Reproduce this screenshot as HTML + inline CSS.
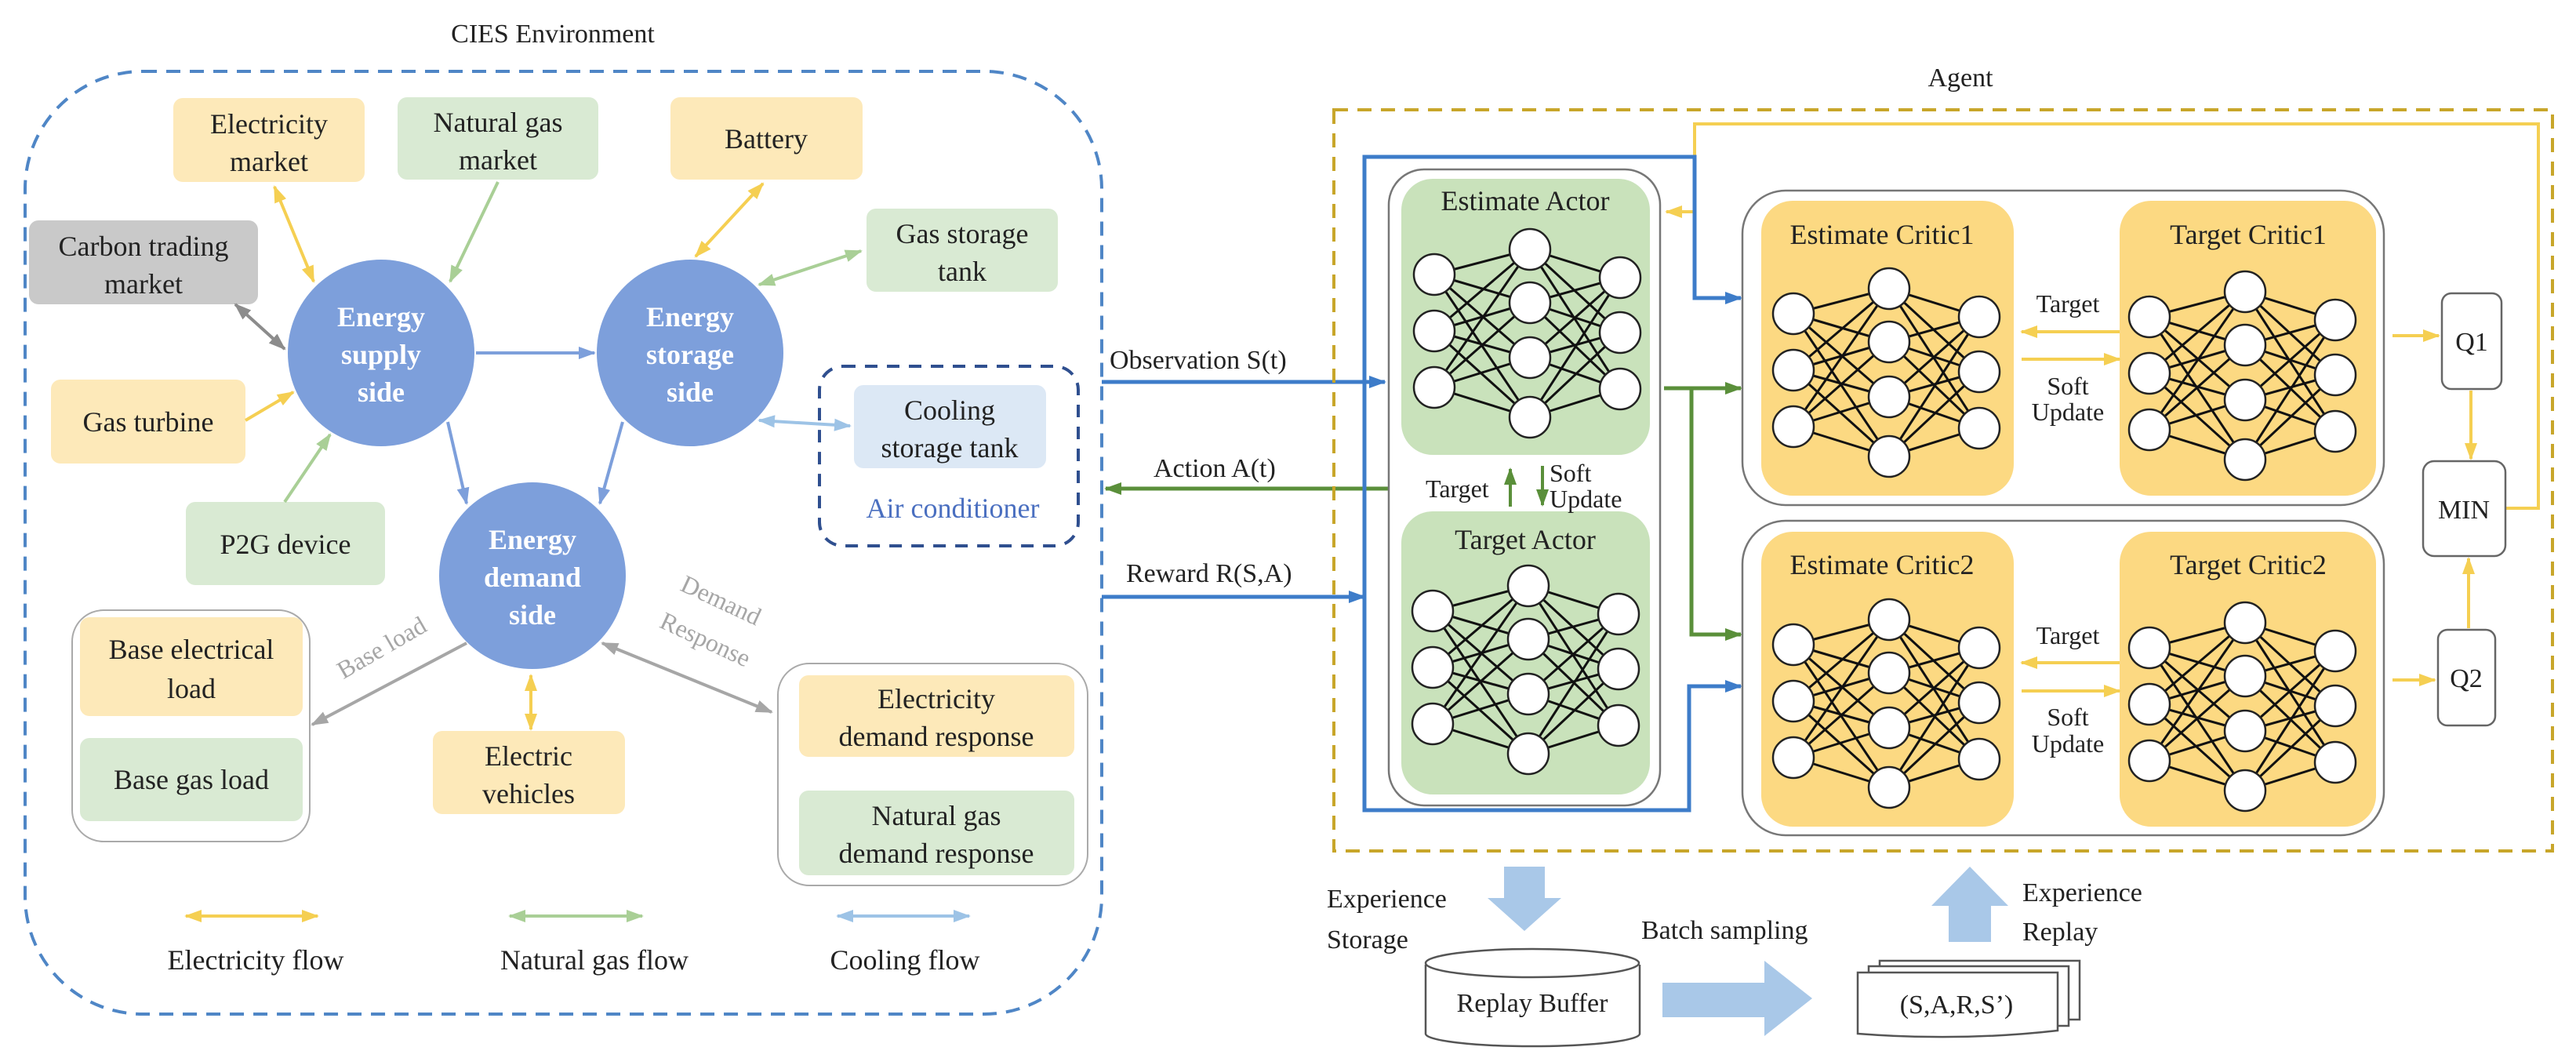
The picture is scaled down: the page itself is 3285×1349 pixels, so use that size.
<!DOCTYPE html>
<html><head><meta charset="utf-8"><style>
html,body{margin:0;padding:0;background:#fff;}
svg{display:block;font-family:"Liberation Serif","Times New Roman",serif;}
svg text{font-family:"Liberation Serif","Times New Roman",serif;fill:#222;}
</style></head><body>
<svg width="3285" height="1349" viewBox="0 0 3285 1349" xmlns="http://www.w3.org/2000/svg" font-family="Liberation Serif, serif">
<defs>
<marker id="ay" markerUnits="userSpaceOnUse" markerWidth="24" markerHeight="20" refX="20" refY="10" orient="auto-start-reverse"><path d="M0,2 L22,10 L0,18 Z" fill="#f5cf52"/></marker>
<marker id="ag" markerUnits="userSpaceOnUse" markerWidth="24" markerHeight="20" refX="20" refY="10" orient="auto-start-reverse"><path d="M0,2 L22,10 L0,18 Z" fill="#a9cf96"/></marker>
<marker id="ab" markerUnits="userSpaceOnUse" markerWidth="24" markerHeight="20" refX="20" refY="10" orient="auto-start-reverse"><path d="M0,2 L22,10 L0,18 Z" fill="#9dc3e6"/></marker>
<marker id="ac" markerUnits="userSpaceOnUse" markerWidth="24" markerHeight="20" refX="20" refY="10" orient="auto-start-reverse"><path d="M0,2 L22,10 L0,18 Z" fill="#7d9fdb"/></marker>
<marker id="agr" markerUnits="userSpaceOnUse" markerWidth="24" markerHeight="20" refX="20" refY="10" orient="auto-start-reverse"><path d="M0,2 L22,10 L0,18 Z" fill="#a6a6a6"/></marker>
<marker id="ak" markerUnits="userSpaceOnUse" markerWidth="24" markerHeight="20" refX="20" refY="10" orient="auto-start-reverse"><path d="M0,2 L22,10 L0,18 Z" fill="#8c8c8c"/></marker>
<marker id="abl" markerUnits="userSpaceOnUse" markerWidth="24" markerHeight="20" refX="20" refY="10" orient="auto-start-reverse"><path d="M0,2 L22,10 L0,18 Z" fill="#3d7cc9"/></marker>
<marker id="adg" markerUnits="userSpaceOnUse" markerWidth="24" markerHeight="20" refX="20" refY="10" orient="auto-start-reverse"><path d="M0,2 L22,10 L0,18 Z" fill="#5a8f3a"/></marker>
<g id="net">
 <g stroke="#111" stroke-width="3">
  <path d="M0,0 L122,-32 M0,0 L122,36 M0,0 L122,106 M0,0 L122,182 M0,72 L122,-32 M0,72 L122,36 M0,72 L122,106 M0,72 L122,182 M0,144 L122,-32 M0,144 L122,36 M0,144 L122,106 M0,144 L122,182"/>
  <path d="M237,4 L122,-32 M237,4 L122,36 M237,4 L122,106 M237,4 L122,182 M237,74 L122,-32 M237,74 L122,36 M237,74 L122,106 M237,74 L122,182 M237,146 L122,-32 M237,146 L122,36 M237,146 L122,106 M237,146 L122,182"/>
 </g>
 <g fill="#fff" stroke="#222" stroke-width="2.5">
  <circle cx="0" cy="0" r="26"/><circle cx="0" cy="72" r="26"/><circle cx="0" cy="144" r="26"/>
  <circle cx="122" cy="-32" r="26"/><circle cx="122" cy="36" r="26"/><circle cx="122" cy="106" r="26"/><circle cx="122" cy="182" r="26"/>
  <circle cx="237" cy="4" r="26"/><circle cx="237" cy="74" r="26"/><circle cx="237" cy="146" r="26"/>
 </g>
</g>
</defs>

<!-- ENV -->
<text x="705" y="54" font-size="34" text-anchor="middle" font-family="Liberation Serif, serif">CIES Environment</text>
<rect x="32" y="91" width="1373" height="1202" rx="150" fill="none" stroke="#4f86c6" stroke-width="4" stroke-dasharray="18,12"/>

<g font-size="36" text-anchor="middle" font-family="Liberation Serif, serif">
<rect x="221" y="125" width="244" height="107" rx="12" fill="#fde9b9"/>
<text x="343" y="170">Electricity</text><text x="343" y="218">market</text>
<rect x="507" y="124" width="256" height="105" rx="12" fill="#d9ead3"/>
<text x="635" y="168">Natural gas</text><text x="635" y="216">market</text>
<rect x="855" y="124" width="245" height="105" rx="12" fill="#fde9b9"/>
<text x="977" y="189">Battery</text>
<rect x="1105" y="266" width="244" height="106" rx="12" fill="#d9ead3"/>
<text x="1227" y="310">Gas storage</text><text x="1227" y="358">tank</text>
<rect x="37" y="281" width="292" height="107" rx="12" fill="#c9c9c9"/>
<text x="183" y="326">Carbon trading</text><text x="183" y="374">market</text>
<rect x="65" y="484" width="248" height="107" rx="12" fill="#fde9b9"/>
<text x="189" y="550">Gas turbine</text>
<rect x="237" y="640" width="254" height="106" rx="12" fill="#d9ead3"/>
<text x="364" y="706">P2G device</text>
<rect x="92" y="778" width="303" height="295" rx="40" fill="#fff" stroke="#aaa" stroke-width="2"/>
<rect x="102" y="787" width="284" height="126" rx="12" fill="#fde9b9"/>
<text x="244" y="840">Base electrical</text><text x="244" y="890">load</text>
<rect x="102" y="941" width="284" height="106" rx="12" fill="#d9ead3"/>
<text x="244" y="1006">Base gas load</text>
<rect x="552" y="932" width="245" height="106" rx="12" fill="#fde9b9"/>
<text x="674" y="976">Electric</text><text x="674" y="1024">vehicles</text>
<rect x="992" y="846" width="395" height="283" rx="40" fill="#fff" stroke="#aaa" stroke-width="2"/>
<rect x="1019" y="861" width="351" height="104" rx="12" fill="#fde9b9"/>
<text x="1194" y="903">Electricity</text><text x="1194" y="951">demand response</text>
<rect x="1019" y="1008" width="351" height="108" rx="12" fill="#d9ead3"/>
<text x="1194" y="1052">Natural gas</text><text x="1194" y="1100">demand response</text>
<rect x="1045" y="467" width="330" height="229" rx="30" fill="none" stroke="#2f4f8f" stroke-width="4" stroke-dasharray="16,12"/>
<rect x="1089" y="491" width="245" height="106" rx="12" fill="#dce8f5"/>
<text x="1211" y="535">Cooling</text><text x="1211" y="583">storage tank</text>
<text x="1215" y="660" style="fill:#4a6fc0">Air conditioner</text>
</g>

<!-- connectors env -->
<g stroke-width="4" fill="none">
<line x1="350" y1="238" x2="400" y2="359" stroke="#f5cf52" marker-start="url(#ay)" marker-end="url(#ay)"/>
<line x1="635" y1="232" x2="574" y2="359" stroke="#a9cf96" marker-end="url(#ag)"/>
<line x1="300" y1="388" x2="363" y2="445" stroke="#8c8c8c" marker-start="url(#ak)" marker-end="url(#ak)"/>
<line x1="313" y1="536" x2="374" y2="500" stroke="#f5cf52" marker-end="url(#ay)"/>
<line x1="363" y1="640" x2="421" y2="554" stroke="#a9cf96" marker-end="url(#ag)"/>
<line x1="607" y1="450" x2="758" y2="450" stroke="#7d9fdb" marker-end="url(#ac)"/>
<line x1="571" y1="538" x2="595" y2="642" stroke="#7d9fdb" marker-end="url(#ac)"/>
<line x1="794" y1="538" x2="765" y2="642" stroke="#7d9fdb" marker-end="url(#ac)"/>
<line x1="973" y1="234" x2="887" y2="327" stroke="#f5cf52" marker-start="url(#ay)" marker-end="url(#ay)"/>
<line x1="1098" y1="320" x2="968" y2="363" stroke="#a9cf96" marker-start="url(#ag)" marker-end="url(#ag)"/>
<line x1="968" y1="536" x2="1084" y2="543" stroke="#9dc3e6" marker-start="url(#ab)" marker-end="url(#ab)"/>
<line x1="595" y1="820" x2="398" y2="924" stroke="#a6a6a6" marker-end="url(#agr)"/>
<line x1="768" y1="820" x2="984" y2="908" stroke="#a6a6a6" marker-start="url(#agr)" marker-end="url(#agr)"/>
<line x1="677" y1="861" x2="677" y2="930" stroke="#f5cf52" marker-start="url(#ay)" marker-end="url(#ay)"/>
<line x1="237" y1="1168" x2="405" y2="1168" stroke="#f5cf52" marker-start="url(#ay)" marker-end="url(#ay)"/>
<line x1="650" y1="1168" x2="819" y2="1168" stroke="#a9cf96" marker-start="url(#ag)" marker-end="url(#ag)"/>
<line x1="1068" y1="1168" x2="1236" y2="1168" stroke="#9dc3e6" marker-start="url(#ab)" marker-end="url(#ab)"/>
</g>
<g font-size="36" text-anchor="middle" font-family="Liberation Serif, serif">
<text x="326" y="1236">Electricity flow</text>
<text x="758" y="1236">Natural gas flow</text>
<text x="1154" y="1236">Cooling flow</text>
</g>
<g font-size="32" text-anchor="middle" font-family="Liberation Serif, serif">
<text x="0" y="0" style="fill:#a6a6a6" transform="translate(492,835) rotate(-30)">Base load</text>
<text x="0" y="0" style="fill:#a6a6a6" transform="translate(915,775) rotate(25)">Demand</text>
<text x="0" y="0" style="fill:#a6a6a6" transform="translate(895,825) rotate(25)">Response</text>
</g>

<g fill="#7d9fdb">
<circle cx="486" cy="450" r="119"/><circle cx="880" cy="450" r="119"/><circle cx="679" cy="734" r="119"/>
</g>
<g font-size="36" font-weight="bold" text-anchor="middle" font-family="Liberation Serif, serif">
<text x="486" y="416" style="fill:#fff">Energy</text><text x="486" y="464" style="fill:#fff">supply</text><text x="486" y="512" style="fill:#fff">side</text>
<text x="880" y="416" style="fill:#fff">Energy</text><text x="880" y="464" style="fill:#fff">storage</text><text x="880" y="512" style="fill:#fff">side</text>
<text x="679" y="700" style="fill:#fff">Energy</text><text x="679" y="748" style="fill:#fff">demand</text><text x="679" y="796" style="fill:#fff">side</text>
</g>

<!-- interface -->
<g font-size="34" font-family="Liberation Serif, serif">
<text x="1415" y="470">Observation S(t)</text>
<text x="1471" y="608">Action A(t)</text>
<text x="1436" y="742">Reward R(S,A)</text>
</g>
<g stroke-width="5" fill="none">
<line x1="1405" y1="487" x2="1766" y2="487" stroke="#3d7cc9" marker-end="url(#abl)"/>
<line x1="1771" y1="623" x2="1410" y2="623" stroke="#5a8f3a" marker-end="url(#adg)"/>
<line x1="1405" y1="761" x2="1740" y2="761" stroke="#3d7cc9" marker-end="url(#abl)"/>
</g>

<!-- AGENT -->
<text x="2500" y="110" font-size="34" text-anchor="middle" font-family="Liberation Serif, serif">Agent</text>
<rect x="1701" y="140" width="1554" height="945" fill="none" stroke="#c8a62a" stroke-width="4" stroke-dasharray="18,12"/>

<rect x="1771" y="216" width="346" height="811" rx="45" fill="#fff" stroke="#777" stroke-width="2.5"/>
<rect x="1787" y="228" width="317" height="352" rx="40" fill="#c9e2bb"/>
<rect x="1787" y="652" width="317" height="361" rx="40" fill="#c9e2bb"/>
<rect x="2222" y="243" width="818" height="401" rx="55" fill="#fff" stroke="#777" stroke-width="2.5"/>
<rect x="2222" y="664" width="818" height="401" rx="55" fill="#fff" stroke="#777" stroke-width="2.5"/>
<rect x="2246" y="256" width="322" height="376" rx="40" fill="#fcd982"/>
<rect x="2703" y="256" width="327" height="376" rx="40" fill="#fcd982"/>
<rect x="2246" y="678" width="322" height="376" rx="40" fill="#fcd982"/>
<rect x="2703" y="678" width="327" height="376" rx="40" fill="#fcd982"/>

<g font-size="36" text-anchor="middle" font-family="Liberation Serif, serif">
<text x="1945" y="268">Estimate Actor</text>
<text x="1945" y="700">Target Actor</text>
<text x="2400" y="311">Estimate Critic1</text>
<text x="2867" y="311">Target Critic1</text>
<text x="2400" y="732">Estimate Critic2</text>
<text x="2867" y="732">Target Critic2</text>
</g>
<use href="#net" x="1829" y="350"/>
<use href="#net" x="1827" y="779"/>
<use href="#net" x="2287" y="400"/>
<use href="#net" x="2741" y="404"/>
<use href="#net" x="2287" y="822"/>
<use href="#net" x="2741" y="826"/>

<g font-size="32" font-family="Liberation Serif, serif">
<text x="1818" y="634">Target</text>
<text x="1976" y="614">Soft</text>
<text x="1976" y="647">Update</text>
<text x="2637" y="398" text-anchor="middle">Target</text>
<text x="2637" y="503" text-anchor="middle">Soft</text>
<text x="2637" y="536" text-anchor="middle">Update</text>
<text x="2637" y="821" text-anchor="middle">Target</text>
<text x="2637" y="925" text-anchor="middle">Soft</text>
<text x="2637" y="959" text-anchor="middle">Update</text>
</g>
<g stroke-width="4" fill="none">
<line x1="1926" y1="646" x2="1926" y2="598" stroke="#5a8f3a" marker-end="url(#adg)"/>
<line x1="1967" y1="594" x2="1967" y2="644" stroke="#5a8f3a" marker-end="url(#adg)"/>
<line x1="2703" y1="423" x2="2578" y2="423" stroke="#f5cf52" marker-end="url(#ay)"/>
<line x1="2578" y1="458" x2="2703" y2="458" stroke="#f5cf52" marker-end="url(#ay)"/>
<line x1="2703" y1="845" x2="2578" y2="845" stroke="#f5cf52" marker-end="url(#ay)"/>
<line x1="2578" y1="881" x2="2703" y2="881" stroke="#f5cf52" marker-end="url(#ay)"/>
<line x1="3051" y1="428" x2="3110" y2="428" stroke="#f5cf52" marker-end="url(#ay)"/>
<line x1="3051" y1="867" x2="3105" y2="867" stroke="#f5cf52" marker-end="url(#ay)"/>
<line x1="3151" y1="498" x2="3151" y2="585" stroke="#f5cf52" marker-end="url(#ay)"/>
<line x1="3148" y1="801" x2="3148" y2="712" stroke="#f5cf52" marker-end="url(#ay)"/>
<polyline points="3195,648 3237,648 3237,158 2161,158 2161,270 2125,270" stroke="#f5cf52" marker-end="url(#ay)"/>
<polyline points="1740,761 1740,200 2161,200 2161,380 2220,380" stroke="#3d7cc9" stroke-width="5" marker-end="url(#abl)"/>
<polyline points="1740,761 1740,1033 2154,1033 2154,875 2220,875" stroke="#3d7cc9" stroke-width="5" marker-end="url(#abl)"/>
<polyline points="2122,495 2220,495" stroke="#5a8f3a" stroke-width="5" marker-end="url(#adg)"/>
<polyline points="2157,495 2157,809 2220,809" stroke="#5a8f3a" stroke-width="5" marker-end="url(#adg)"/>
</g>
<g fill="#fff" stroke="#666" stroke-width="2.5">
<rect x="3114" y="374" width="76" height="122" rx="12"/>
<rect x="3109" y="803" width="73" height="122" rx="12"/>
<rect x="3090" y="588" width="105" height="121" rx="14"/>
</g>
<g font-size="34" text-anchor="middle" font-family="Liberation Serif, serif">
<text x="3152" y="447">Q1</text>
<text x="3145" y="876">Q2</text>
<text x="3142" y="661">MIN</text>
</g>

<!-- bottom -->
<path d="M1918,1105 L1970,1105 L1970,1145 L1991,1145 L1944,1187 L1897,1145 L1918,1145 Z" fill="#a9c8e8"/>
<path d="M2485,1201 L2539,1201 L2539,1155 L2561,1155 L2512,1105 L2463,1155 L2485,1155 Z" fill="#a9c8e8"/>
<path d="M2120,1253 L2250,1253 L2250,1225 L2311,1273 L2250,1321 L2250,1297 L2120,1297 Z" fill="#a9c8e8"/>
<g font-size="34" font-family="Liberation Serif, serif">
<text x="1692" y="1157">Experience</text>
<text x="1692" y="1209">Storage</text>
<text x="2093" y="1197">Batch sampling</text>
<text x="2579" y="1149">Experience</text>
<text x="2579" y="1199">Replay</text>
</g>
<g fill="#fff" stroke="#555" stroke-width="2.5">
<path d="M1818,1230 L1818,1318 A136,16 0 0 0 2091,1318 L2091,1230"/>
<ellipse cx="1954" cy="1228" rx="136" ry="18"/>
<path d="M2397,1225 L2652,1225 L2652,1300 L2397,1300 Z"/>
<path d="M2383,1232 L2638,1232 L2638,1308 L2383,1308 Z"/>
<path d="M2369,1240 L2624,1240 L2624,1314 Q2500,1328 2369,1318 Z"/>
</g>
<g font-size="34" text-anchor="middle" font-family="Liberation Serif, serif">
<text x="1954" y="1290">Replay Buffer</text>
<text x="2495" y="1292">(S,A,R,S’)</text>
</g>
</svg>
</body></html>
